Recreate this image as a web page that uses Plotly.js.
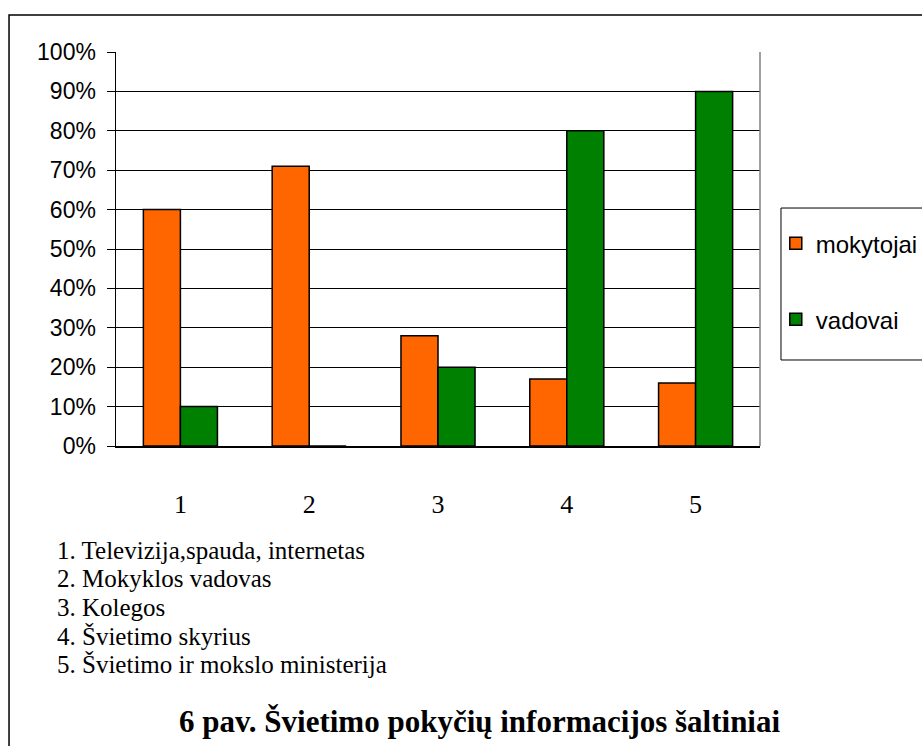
<!DOCTYPE html>
<html>
<head>
<meta charset="utf-8">
<script src="https://cdn.plot.ly/plotly-3.0.1.min.js"></script>
<style>html,body{margin:0;padding:0;background:#fff;}#chart{width:922px;height:746px;}</style>
</head>
<body>
<div id="chart"></div>
<script>
var categories = ['1', '2', '3', '4', '5'];
var mokytojai = [60, 71, 28, 17, 16];
var vadovai = [10, 0, 20, 80, 90];
var seriesNames = ['mokytojai', 'vadovai'];
var yTickVals = [0, 10, 20, 30, 40, 50, 60, 70, 80, 90, 100];
var yTickText = ['0%', '10%', '20%', '30%', '40%', '50%', '60%', '70%', '80%', '90%', '100%'];
var sourceLines = [
  '1. Televizija,spauda, internetas',
  '2. Mokyklos vadovas',
  '3. Kolegos',
  '4. Švietimo skyrius',
  '5. Švietimo ir mokslo ministerija'
];
var chartTitle = '6 pav. Švietimo pokyčių informacijos šaltiniai';

var traces = [
  {type: 'bar', x: categories, y: mokytojai, name: seriesNames[0], legendgroup: 'a',
   marker: {color: '#FF6600', line: {color: '#000', width: 1.5}}},
  {type: 'bar', x: categories, y: vadovai, name: seriesNames[1], legendgroup: 'b',
   marker: {color: '#008000', line: {color: '#000', width: 1.5}}}
];

var serif = 'Liberation Serif, Times New Roman, serif';
var sans = 'Liberation Sans, Arial, sans-serif';

// list lines, one annotation each (layout positions only)
var listTop = (446 - 550) / 394;
var listStep = 28.5 / 394;
var listAnnotations = sourceLines.map(function (t, i) {
  return {xref: 'paper', yref: 'paper', x: -0.0947, y: listTop - i * listStep,
          xanchor: 'left', yanchor: 'middle', align: 'left', showarrow: false, text: t,
          font: {family: serif, size: 25, color: '#000'}};
});

var layout = {
  width: 922, height: 746,
  margin: {l: 116, r: 162, t: 52, b: 300, autoexpand: false},
  paper_bgcolor: '#fff', plot_bgcolor: '#fff',
  barmode: 'group', bargap: 0.425, bargroupgap: 0,
  showlegend: true,
  legend: {
    x: 1.0245, xanchor: 'left', y: 0.571, yanchor: 'top',
    traceorder: 'grouped', tracegroupgap: 42,
    bgcolor: 'rgba(0,0,0,0)', borderwidth: 0,
    font: {family: sans, size: 24, color: '#000'}
  },
  xaxis: {
    type: 'category', showgrid: false, zeroline: false,
    showline: true, linecolor: '#000', linewidth: 1.5,
    ticks: '', ticklabelstandoff: 34,
    tickfont: {family: serif, size: 26, color: '#000'},
    fixedrange: true, automargin: false
  },
  yaxis: {
    range: [0, 100], tickmode: 'array', tickvals: yTickVals, ticktext: yTickText,
    showgrid: true, gridcolor: '#000', gridwidth: 1,
    zeroline: false, showline: true, linecolor: '#000', linewidth: 1.5,
    ticks: 'outside', ticklen: 8, tickcolor: '#000', tickwidth: 1,
    ticklabelstandoff: 6,
    tickfont: {family: sans, size: 23, color: '#000'},
    fixedrange: true, automargin: false
  },
  shapes: [
    {type: 'line', xref: 'paper', yref: 'paper', x0: 1, x1: 1, y0: 0, y1: 1,
     line: {color: '#808080', width: 1.5}},
    {type: 'rect', xref: 'paper', yref: 'paper', x0: 1.0326, x1: 1.27, y0: 0.2183, y1: 0.604,
     line: {color: '#000', width: 1}, fillcolor: 'rgba(0,0,0,0)'},
    {type: 'rect', xref: 'paper', yref: 'paper', x0: -0.1661, x1: 1.27, y0: -0.82, y1: 1.0939,
     line: {color: '#000', width: 1.5}, fillcolor: 'rgba(0,0,0,0)'}
  ],
  annotations: listAnnotations.concat([
    {xref: 'paper', yref: 'paper', x: 0.5645, y: -0.699, xanchor: 'center', yanchor: 'middle',
     showarrow: false, text: '<b>' + chartTitle + '</b>',
     font: {family: serif, size: 31, color: '#000'}}
  ])
};

Plotly.newPlot('chart', traces, layout, {displayModeBar: false, staticPlot: true});
</script>
</body>
</html>
